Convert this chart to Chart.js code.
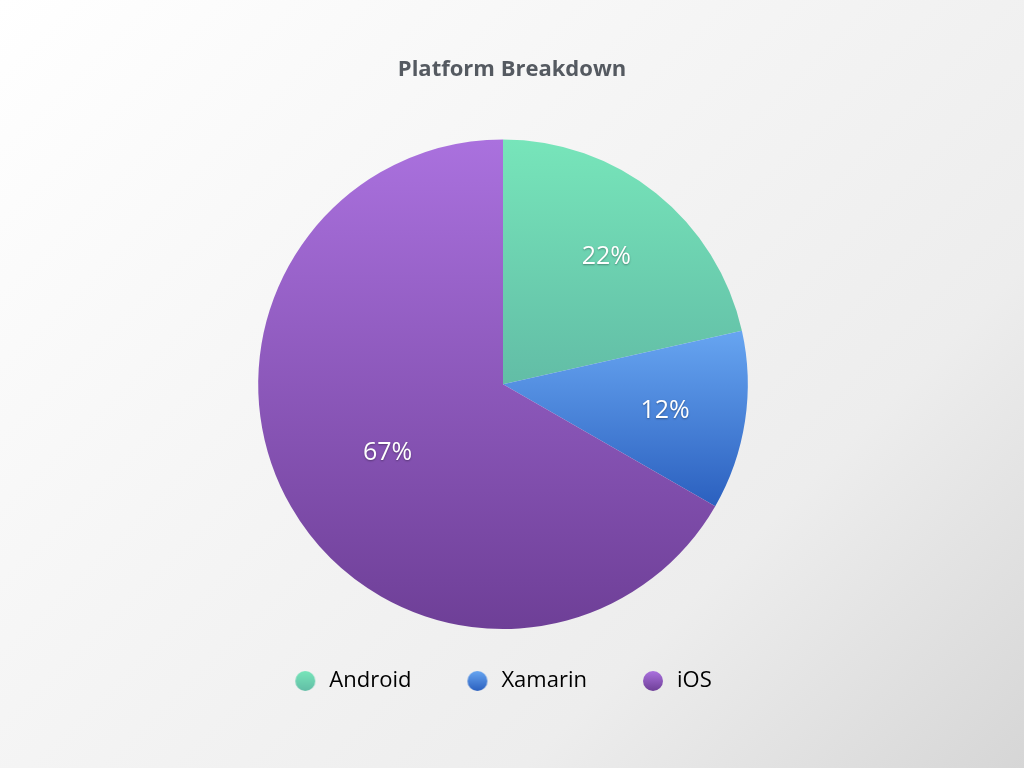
<!DOCTYPE html>
<html><head><meta charset="utf-8">
<script src="https://cdn.jsdelivr.net/npm/chart.js@4/dist/chart.umd.min.js"></script>
<style>
html,body{margin:0;padding:0;width:1024px;height:768px;overflow:hidden;}
body{background:linear-gradient(135deg,#ffffff 0%,#f5f5f5 40%,#ededed 72%,#d6d6d6 100%);}
canvas{display:block;}
</style></head><body>
<canvas id="c" width="1024" height="768"></canvas>
<script>
const categories = ['Android', 'Xamarin', 'iOS'];
const shares = [21.5, 11.8, 66.7];
const pctLabels = ['22%', '12%', '67%'];
const chartTitle = 'Platform Breakdown';

const gradTop = ['#77e5ba', '#67a5f1', '#aa71de'];
const gradBottom = ['#62bda6', '#2b60bf', '#6e3f97'];
const labelRadius = [0.675, 0.67, 0.545];

function sliceBounds(chart, i) {
  const a = chart.chartArea;
  const cx = (a.left + a.right) / 2, cy = (a.top + a.bottom) / 2;
  const r = Math.min(a.right - a.left, a.bottom - a.top) / 2;
  const total = shares.reduce((s, v) => s + v, 0);
  let start = -Math.PI / 2;
  for (let k = 0; k < i; k++) start += shares[k] / total * 2 * Math.PI;
  const end = start + shares[i] / total * 2 * Math.PI;
  const ys = [cy, cy + r * Math.sin(start), cy + r * Math.sin(end)];
  for (const ang of [-Math.PI / 2, Math.PI / 2, 3 * Math.PI / 2]) {
    if (ang >= start && ang <= end) ys.push(cy + r * Math.sin(ang));
  }
  return [Math.min(...ys), Math.max(...ys)];
}

function sliceFill(ctx) {
  const chart = ctx.chart;
  const i = ctx.dataIndex;
  if (!chart.chartArea || i === undefined) return gradBottom[i || 0];
  const [y0, y1] = sliceBounds(chart, i);
  const g = chart.ctx.createLinearGradient(0, y0, 0, y1);
  g.addColorStop(0, gradTop[i]);
  g.addColorStop(1, gradBottom[i]);
  return g;
}

function dotCanvas(i) {
  const c = document.createElement('canvas');
  c.width = 38; c.height = 20;
  const g = c.getContext('2d');
  const gr = g.createLinearGradient(0, 0, 0, 20);
  gr.addColorStop(0, gradTop[i]);
  gr.addColorStop(1, gradBottom[i]);
  g.fillStyle = gr;
  g.beginPath();
  g.arc(25, 10, 10, 0, Math.PI * 2);
  g.fill();
  return c;
}
const dots = categories.map((_, i) => dotCanvas(i));

const pctPlugin = {
  id: 'pctLabels',
  afterDatasetsDraw(chart) {
    const meta = chart.getDatasetMeta(0);
    const ctx = chart.ctx;
    ctx.save();
    ctx.font = '400 25px "Open Sans"';
    ctx.textAlign = 'center';
    ctx.textBaseline = 'middle';
    ctx.fillStyle = '#ffffff';
    ctx.shadowColor = 'rgba(0,0,0,0.35)';
    ctx.shadowOffsetX = 0;
    ctx.shadowOffsetY = 1;
    ctx.shadowBlur = 2;
    meta.data.forEach((arc, i) => {
      const p = arc.getProps(['x', 'y', 'startAngle', 'endAngle', 'outerRadius'], true);
      const mid = (p.startAngle + p.endAngle) / 2;
      const rr = p.outerRadius * labelRadius[i];
      ctx.fillText(pctLabels[i], p.x + Math.cos(mid) * rr, p.y + Math.sin(mid) * rr + 2);
    });
    ctx.restore();
  }
};

const boxShiftPlugin = {
  id: 'boxShift',
  afterLayout(chart) {
    const t = chart.titleBlock;
    if (t) { t.left = 0; t.right = chart.width; t.width = chart.width; }
    const l = chart.legend;
    if (l) { l.left -= 7; l.right -= 7; }
  }
};

new Chart(document.getElementById('c'), {
  type: 'pie',
  data: {
    labels: categories,
    datasets: [{
      data: shares,
      backgroundColor: sliceFill,
      borderWidth: 0
    }]
  },
  options: {
    responsive: false,
    animation: false,
    devicePixelRatio: 1,
    layout: { padding: { left: 0, right: 18, top: 0, bottom: 66 } },
    plugins: {
      title: {
        display: true,
        text: chartTitle,
        color: '#555a61',
        font: { family: 'Open Sans', size: 22, weight: 'bold' },
        padding: { top: 57, bottom: 56 }
      },
      legend: {
        position: 'bottom',
        labels: {
          usePointStyle: true,
          pointStyleWidth: 38,
          boxHeight: 20,
          padding: 41,
          color: '#222222',
          font: { family: 'Open Sans', size: 22 },
          generateLabels(chart) {
            return categories.map((t, i) => ({
              text: t,
              pointStyle: dots[i],
              fillStyle: gradBottom[i],
              strokeStyle: 'rgba(0,0,0,0)',
              lineWidth: 0,
              hidden: !chart.getDataVisibility(i),
              index: i
            }));
          }
        }
      },
      tooltip: { enabled: false }
    }
  },
  plugins: [pctPlugin, boxShiftPlugin]
});
</script>
</body></html>
